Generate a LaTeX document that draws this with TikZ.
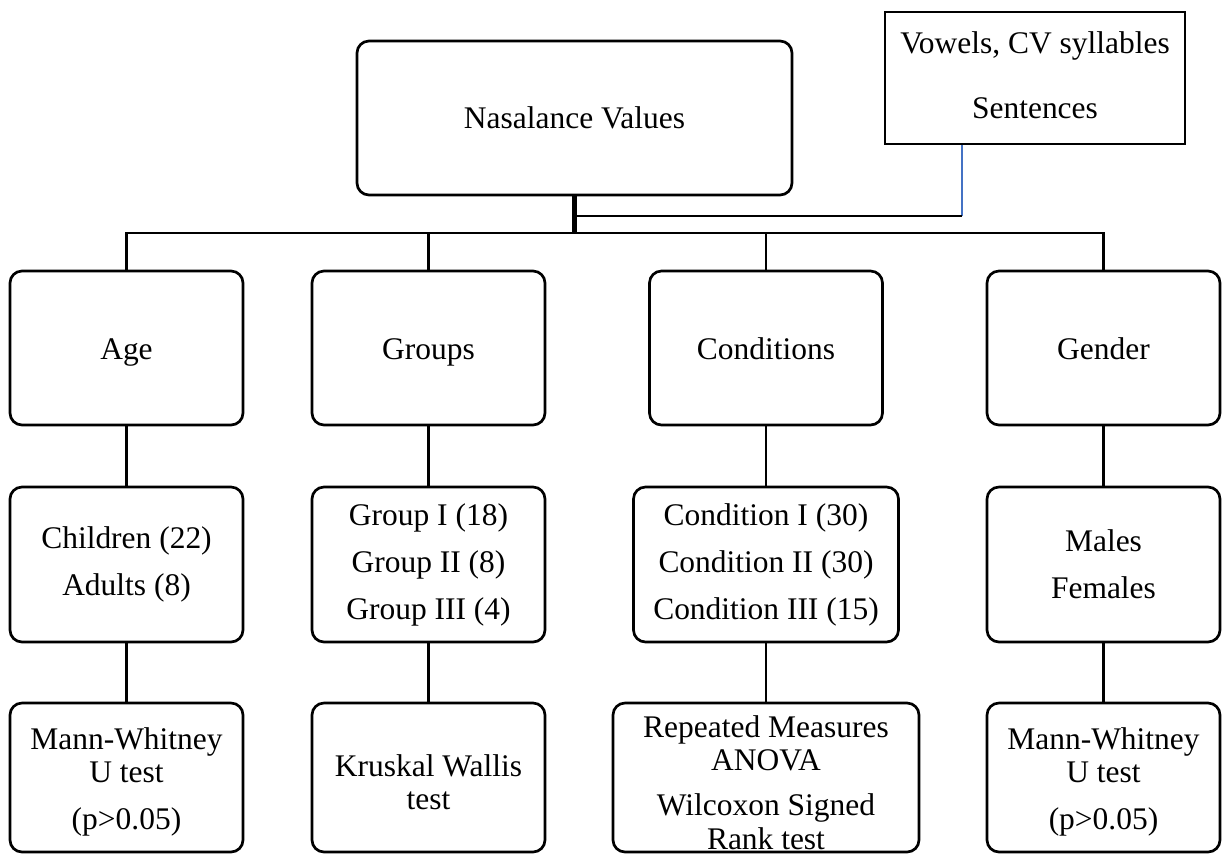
\documentclass[tikz,border=0pt]{standalone}
\usepackage{fontspec}
\setmainfont{Liberation Serif}
\newcommand\boxfont{\fontsize{23.6}{24.75}\selectfont}
\newcommand\pushdown{\rule{0pt}{23.6pt}}
\definecolor{linkblue}{RGB}{68,114,196}
\begin{document}
\begin{tikzpicture}[x=0.75pt,y=-0.75pt,
  box/.style={draw,line width=2pt,rounded corners=9pt,align=center,inner sep=0pt,font=\boxfont},
  sqbox/.style={draw,line width=2pt,align=center,inner sep=0pt,font=\boxfont},
  lvtwo/.style={box,minimum width=174.75pt,minimum height=115.5pt,text height=16.5pt,text depth=0pt},
  lvthree/.style={box,minimum width=174.75pt,minimum height=116.25pt},
  lvfour/.style={box,minimum width=174.75pt,minimum height=111.75pt},
  conn/.style={line width=1.9pt},
  thickconn/.style={line width=3.75pt},
  thinconn/.style={line width=1.3pt}]
\path[use as bounding box,fill=white] (0,0) rectangle (1222,854);

% top
\node[box,minimum width=326.25pt,minimum height=115.5pt] (nas) at (574.5,118) {Nasalance Values};
\node[sqbox,minimum width=225pt,minimum height=99pt] (vow) at (1035,78) {Vowels, CV syllables\\[24pt]Sentences\rule[-4.5pt]{0pt}{4.5pt}};

% level 2
\node[lvtwo] (age) at (126.5,348) {Age};
\node[lvtwo] (grp) at (428.5,348) {Groups};
\node[lvtwo] (cnd) at (766,348) {Conditions};
\node[lvtwo] (gen) at (1103.5,348) {Gender};

% level 3
\node[lvthree] (agethree) at (126.5,564.5) {Children (22)\\[10.5pt]Adults (8)};
\node[lvthree] (grpthree) at (428.5,564.5) {Group I (18)\\[10.5pt]Group II (8)\\[10.5pt]Group III (4)};
\node[lvthree,minimum width=198.75pt] (cndthree) at (766,564.5) {Condition I (30)\\[10.5pt]Condition II (30)\\[10.5pt]Condition III (15)};
\node[lvthree] (genthree) at (1103.5,564.5) {Males\\[10.5pt]Females};

% level 4
\node[lvfour] (agefour) at (126.5,777.5) {\pushdown Mann-Whitney\\U test\\[10.5pt](p>0.05)};
\node[lvfour] (grpfour) at (428.5,777.5) {\pushdown Kruskal Wallis\\test};
\node[lvfour,minimum width=229.5pt] (cndfour) at (766,777.5) {\pushdown Repeated Measures\\ANOVA\\[9pt]Wilcoxon Signed\\[0.75pt]Rank test};
\node[lvfour] (genfour) at (1103.5,777.5) {\pushdown Mann-Whitney\\U test\\[10.5pt](p>0.05)};

% connectors
\coordinate (bus) at (572.5,233);
\coordinate (vj) at (962,216);
\draw[thickconn] (nas.south) -- (nas.south |- bus);
\draw[conn] (age.north) -- (age.north |- bus) -- (gen.north |- bus) -- (gen.north);
\draw[conn] (grp.north |- bus) -- (grp.north);
\draw[conn] (cnd.north |- bus) -- (cnd.north);
\draw[thinconn,linkblue] (vow.south -| vj) -- (vj);
\draw[thinconn] (vj) -- (nas.south |- vj);

\draw[conn] (age) -- (agethree);
\draw[conn] (grp) -- (grpthree);
\draw[conn] (cnd) -- (cndthree);
\draw[conn] (gen) -- (genthree);
\draw[conn] (agethree) -- (agefour);
\draw[conn] (grpthree) -- (grpfour);
\draw[conn] (cndthree) -- (cndfour);
\draw[conn] (genthree) -- (genfour);
\end{tikzpicture}
\end{document}
